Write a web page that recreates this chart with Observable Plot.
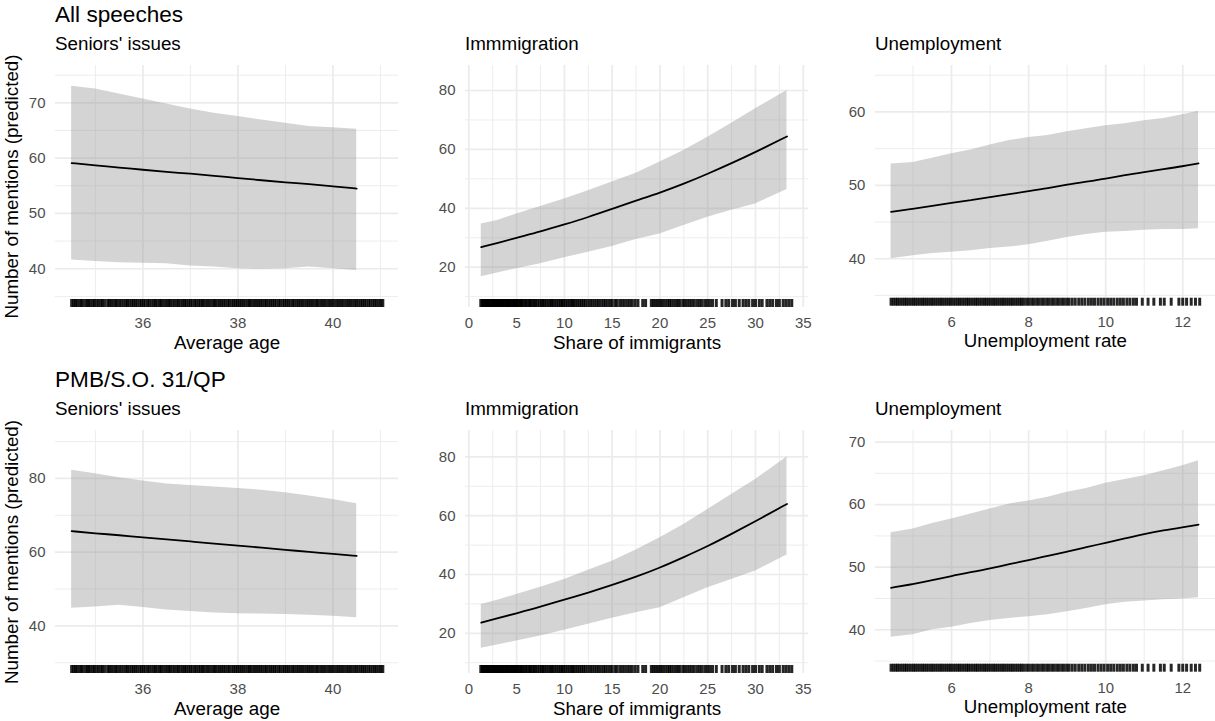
<!DOCTYPE html>
<html>
<head>
<meta charset="utf-8">
<script src="https://cdn.jsdelivr.net/npm/d3@7"></script>
<script src="https://cdn.jsdelivr.net/npm/@observablehq/plot@0.6"></script>
<style>
  html, body { margin: 0; padding: 0; background: #fff; overflow: hidden; }
  #fig { position: relative; width: 1215px; height: 721px; overflow: hidden;
         font-family: "Liberation Sans", Arial, Helvetica, sans-serif; }
  .ttl { position: absolute; white-space: nowrap; line-height: 1; color: #000; }
  .panel { position: absolute; }
  .panel svg { overflow: visible; }
  .panel g[aria-label="x-axis label"], .panel g[aria-label="y-axis label"] { font-size: 18.8px; fill: #000; }
  .panel g[aria-label="x-axis tick label"], .panel g[aria-label="y-axis tick label"] { fill: #4d4d4d; }
</style>
</head>
<body>
<div id="fig"></div>
<script>
// ---- labels ----
const rowTitles = ["All speeches", "PMB/S.O. 31/QP"];
const panelTitles = ["Seniors' issues", "Immmigration", "Unemployment"];
const xTitles = ["Average age", "Share of immigrants", "Unemployment rate"];
const yTitle = "Number of mentions (predicted)";

// ---- x tick labels ----
const ageTicks = [36, 38, 40];
const immTicks = [0, 5, 10, 15, 20, 25, 30, 35];
const unempTicks = [6, 8, 10, 12];

// ---- y tick labels per panel ----
const allAgeYTicks = [40, 50, 60, 70];
const allImmYTicks = [20, 40, 60, 80];
const allUnempYTicks = [40, 50, 60];
const pmbAgeYTicks = [40, 60, 80];
const pmbImmYTicks = [20, 40, 60, 80];
const pmbUnempYTicks = [40, 50, 60, 70];

// ---- predictor values where predictions are shown ----
const ageGrid = [34.5, 35, 35.5, 36, 36.5, 37, 37.5, 38, 38.5, 39, 39.5, 40, 40.5];
const immGrid = [1.3, 3, 5, 7.5, 10, 12.5, 15, 17.5, 20, 22.5, 25, 27.5, 30, 33.3];
const unempGrid = [4.43, 5, 5.5, 6, 6.5, 7, 7.5, 8, 8.5, 9, 9.5, 10, 10.5, 11, 11.5, 12, 12.41];

// ---- All speeches: predicted mentions with confidence band ----
const allAgeFit = [59.1, 58.7, 58.3, 57.9, 57.5, 57.2, 56.8, 56.4, 56.0, 55.6, 55.3, 54.9, 54.5];
const allAgeLo  = [41.6, 41.3, 41.1, 41.0, 40.9, 40.5, 40.3, 40.0, 39.9, 40.0, 40.3, 40.0, 39.7];
const allAgeHi  = [73.0, 72.5, 71.6, 70.7, 69.8, 68.9, 68.1, 67.5, 66.9, 66.3, 65.7, 65.5, 65.2];

const allImmFit = [26.8, 28.2, 30.0, 32.1, 34.5, 37.0, 39.8, 42.6, 45.3, 48.3, 51.7, 55.3, 59.1, 64.4];
const allImmLo  = [16.8, 18.0, 19.5, 21.2, 23.2, 25.1, 27.0, 29.4, 31.3, 34.2, 37.0, 39.3, 41.5, 46.4];
const allImmHi  = [34.7, 35.9, 38.1, 40.6, 43.2, 46.0, 48.9, 51.9, 55.7, 59.6, 64.1, 68.9, 73.8, 80.0];

const allUnempFit = [46.4, 46.8, 47.2, 47.6, 48.0, 48.4, 48.8, 49.2, 49.6, 50.1, 50.5, 50.9, 51.4, 51.8, 52.2, 52.6, 53.0];
const allUnempLo  = [40.0, 40.4, 40.7, 40.9, 41.1, 41.4, 41.6, 41.9, 42.4, 42.9, 43.3, 43.6, 43.7, 43.9, 44.0, 44.0, 44.1];
const allUnempHi  = [52.9, 53.1, 53.7, 54.3, 54.8, 55.5, 56.1, 56.5, 56.8, 57.3, 57.7, 58.1, 58.4, 58.8, 59.1, 59.6, 60.1];

// ---- PMB/S.O. 31/QP: predicted mentions with confidence band ----
const pmbAgeFit = [65.7, 65.1, 64.6, 64.0, 63.5, 62.9, 62.3, 61.8, 61.2, 60.6, 60.1, 59.5, 59.0];
const pmbAgeLo  = [44.8, 45.1, 45.6, 45.0, 44.3, 43.9, 43.5, 43.3, 43.2, 43.1, 42.9, 42.6, 42.2];
const pmbAgeHi  = [82.2, 81.3, 80.2, 79.3, 78.5, 78.1, 77.7, 77.3, 76.8, 76.1, 75.2, 74.3, 73.1];

const pmbImmFit = [23.6, 25.1, 26.8, 29.0, 31.5, 33.8, 36.4, 39.2, 42.3, 45.9, 49.6, 53.8, 58.1, 64.0];
const pmbImmLo  = [14.9, 16.0, 17.4, 19.1, 21.0, 23.1, 25.1, 27.0, 28.7, 32.1, 35.5, 38.3, 41.2, 46.6];
const pmbImmHi  = [29.8, 31.2, 33.2, 35.7, 38.3, 41.4, 44.5, 48.3, 52.5, 57.0, 62.1, 67.2, 72.3, 80.0];

const pmbUnempFit = [46.7, 47.3, 47.9, 48.6, 49.2, 49.8, 50.5, 51.1, 51.8, 52.5, 53.2, 53.9, 54.6, 55.3, 55.9, 56.4, 56.8];
const pmbUnempLo  = [38.8, 39.2, 40.0, 40.4, 41.0, 41.5, 41.8, 42.1, 42.4, 42.9, 43.4, 44.0, 44.4, 44.6, 44.8, 44.9, 45.1];
const pmbUnempHi  = [55.5, 56.1, 57.0, 57.7, 58.5, 59.3, 60.1, 60.6, 61.2, 62.0, 62.6, 63.4, 64.0, 64.6, 65.4, 66.2, 67.0];

// ---- observed predictor values (rug) ----
const ageRug = [34.50, 34.54, 34.58, 34.61, 34.66, 34.70, 34.73, 34.79, 34.83, 34.86, 34.90, 34.95, 34.98, 35.03, 35.07,
  35.12, 35.15, 35.20, 35.26, 35.29, 35.33, 35.37, 35.42, 35.45, 35.50, 35.54, 35.59, 35.64, 35.67, 35.71, 35.76, 35.80,
  35.84, 35.88, 35.93, 35.97, 36.01, 36.05, 36.10, 36.13, 36.18, 36.23, 36.26, 36.30, 36.35, 36.38, 36.42, 36.47, 36.51,
  36.55, 36.58, 36.63, 36.67, 36.72, 36.75, 36.80, 36.84, 36.88, 36.91, 36.96, 37.00, 37.04, 37.09, 37.12, 37.17, 37.21,
  37.25, 37.28, 37.33, 37.37, 37.41, 37.46, 37.50, 37.53, 37.58, 37.62, 37.66, 37.70, 37.74, 37.79, 37.82, 37.87, 37.91,
  37.95, 37.99, 38.03, 38.07, 38.11, 38.15, 38.20, 38.24, 38.27, 38.32, 38.36, 38.40, 38.44, 38.48, 38.52, 38.57, 38.60,
  38.65, 38.69, 38.73, 38.77, 38.81, 38.86, 38.89, 38.94, 38.98, 39.02, 39.06, 39.10, 39.15, 39.18, 39.23, 39.27, 39.31,
  39.35, 39.39, 39.44, 39.48, 39.52, 39.56, 39.60, 39.65, 39.68, 39.73, 39.77, 39.81, 39.85, 39.90, 39.94, 39.98, 40.02,
  40.07, 40.11, 40.15, 40.19, 40.23, 40.28, 40.32, 40.36, 40.40, 40.45, 40.49, 40.53, 40.58, 40.62, 40.66, 40.70, 40.75,
  40.79, 40.84, 40.88, 40.92, 40.97, 41.01, 41.05];

const immRug = [1.25, 1.4, 1.5, 1.6, 1.75, 1.85, 1.9, 2.0, 2.1, 2.2, 2.3, 2.45, 2.55, 2.6, 2.7, 2.8, 2.9, 3.0, 3.1, 3.15,
  3.3, 3.4, 3.5, 3.6, 3.7, 3.85, 3.95, 4.0, 4.1, 4.2, 4.3, 4.4, 4.55, 4.65, 4.7, 4.8, 4.9, 5.0, 5.1, 5.25, 5.4, 5.5,
  5.6, 5.8, 5.95, 6.1, 6.3, 6.4, 6.5, 6.7, 6.85, 7.0, 7.2, 7.4, 7.6, 7.75, 7.9, 8.1, 8.3, 8.5, 8.65, 8.8, 9.0, 9.2, 9.4,
  9.6, 9.75, 9.9, 10.1, 10.3, 10.5, 10.7, 10.85, 11.0, 11.2, 11.4, 11.6, 11.8, 12.0,
  12.2, 12.45, 12.7, 12.9, 13.15, 13.4, 13.6, 13.85, 14.1, 14.3, 14.55, 14.8, 15.0, 15.3, 15.5, 15.8, 16.05, 16.3,
  16.6, 16.85, 17.1, 17.4, 17.7, 18.2, 18.5,
  19.1, 19.3, 19.5, 19.7, 19.9, 20.1, 20.3, 20.55, 20.8, 21.0, 21.2, 21.45, 21.7, 21.9, 22.1, 22.4, 22.6, 22.85, 23.1,
  23.35, 23.6, 23.9, 24.15, 24.4, 24.7, 24.95, 25.2, 25.5,
  25.9, 26.5, 26.9, 27.2, 27.6, 27.9, 28.3, 28.7, 29.0, 29.3, 29.7, 30.0, 30.4, 30.7, 31.2, 31.5, 31.8, 32.2, 32.5,
  32.9, 33.2, 33.5, 33.8];

const unempRug = [4.43, 4.49, 4.55, 4.60, 4.66, 4.72, 4.78, 4.83, 4.89, 4.95, 5.01, 5.06, 5.12, 5.18, 5.24, 5.29, 5.35,
  5.41, 5.47, 5.52, 5.58, 5.64, 5.70, 5.75, 5.81, 5.87, 5.93, 5.98, 6.04, 6.10, 6.16, 6.21, 6.27, 6.33, 6.39, 6.44,
  6.50, 6.56, 6.62, 6.67, 6.73, 6.79, 6.85, 6.90, 6.96, 7.02, 7.08, 7.13, 7.19, 7.25, 7.31, 7.36, 7.42, 7.48, 7.54,
  7.59, 7.65, 7.71, 7.77, 7.82, 7.88, 7.95, 8.01, 8.08, 8.14, 8.21, 8.27, 8.34, 8.40, 8.47, 8.53, 8.60, 8.66, 8.73,
  8.79, 8.86, 8.92, 8.99, 9.05,
  9.13, 9.21, 9.30, 9.38, 9.46, 9.55, 9.63, 9.71, 9.80, 9.88, 9.96, 10.05, 10.13, 10.21, 10.30, 10.38, 10.46, 10.55,
  10.63, 10.72, 10.80,
  10.95, 11.10, 11.25, 11.42, 11.52, 11.70, 11.90, 12.00, 12.10, 12.22, 12.33, 12.44];

// ---- figure layout ----
const fig = document.getElementById("fig");
const FONT = '"Liberation Sans", Arial, Helvetica, sans-serif';

const rows = [
  { title: rowTitles[0], titleTop: 4.2, subTop: 34.8, plotTop: 65, plotH: 242, marginBottom: 52 },
  { title: rowTitles[1], titleTop: 369.2, subTop: 400.1, plotTop: 429.5, plotH: 243, marginBottom: 48 }
];
const cols = [
  { plotLeft: 55, plotW: 343, marginLeft: 55, x: xTitles[0] },
  { plotLeft: 465, plotW: 343, marginLeft: 45, x: xTitles[1] },
  { plotLeft: 875, plotW: 342, marginLeft: 45, x: xTitles[2] }
];

const panels = [
  [
    { grid: ageGrid, fit: allAgeFit, lo: allAgeLo, hi: allAgeHi, rug: ageRug, xTicks: ageTicks, yTicks: allAgeYTicks,
      xDomain: [34.16, 41.38], yDomain: [33.0, 76.74] },
    { grid: immGrid, fit: allImmFit, lo: allImmLo, hi: allImmHi, rug: immRug, xTicks: immTicks, yTicks: allImmYTicks,
      xDomain: [-0.35, 35.55], yDomain: [6.32, 88.49] },
    { grid: unempGrid, fit: allUnempFit, lo: allUnempLo, hi: allUnempHi, rug: unempRug, xTicks: unempTicks, yTicks: allUnempYTicks,
      xDomain: [4.02, 12.85], yDomain: [33.54, 66.33] }
  ],
  [
    { grid: ageGrid, fit: pmbAgeFit, lo: pmbAgeLo, hi: pmbAgeHi, rug: ageRug, xTicks: ageTicks, yTicks: pmbAgeYTicks,
      xDomain: [34.16, 41.38], yDomain: [27.08, 93.0] },
    { grid: immGrid, fit: pmbImmFit, lo: pmbImmLo, hi: pmbImmHi, rug: immRug, xTicks: immTicks, yTicks: pmbImmYTicks,
      xDomain: [-0.35, 35.55], yDomain: [6.32, 88.98] },
    { grid: unempGrid, fit: pmbUnempFit, lo: pmbUnempLo, hi: pmbUnempHi, rug: unempRug, xTicks: unempTicks, yTicks: pmbUnempYTicks,
      xDomain: [4.02, 12.85], yDomain: [33.22, 71.86] }
  ]
];

// minor breaks halfway between major breaks, kept inside the domain
function minorBreaks(ticks, domain) {
  const step = ticks[1] - ticks[0];
  const out = [];
  for (let v = ticks[0] - step / 2; v <= ticks[ticks.length - 1] + step; v += step) {
    if (v >= domain[0] && v <= domain[1]) out.push(v);
  }
  return out;
}

function addText(text, left, top, size) {
  const d = document.createElement("div");
  d.className = "ttl";
  d.textContent = text;
  d.style.left = left + "px";
  d.style.top = top + "px";
  d.style.fontSize = size + "px";
  fig.appendChild(d);
}

const marginTop = 10;
const gridColor = "#ebebeb";

rows.forEach((row, r) => {
  addText(row.title, cols[0].plotLeft, row.titleTop, 22.6);
  cols.forEach((col, c) => {
    const p = panels[r][c];
    addText(panelTitles[c], col.plotLeft, row.subTop, 18.8);

    const data = p.grid.map((x, i) => ({ x, fit: p.fit[i], lo: p.lo[i], hi: p.hi[i] }));
    const marginRight = c === 2 ? 0 : 5;
    const width = col.marginLeft + col.plotW + marginRight;
    const height = marginTop + row.plotH + row.marginBottom;

    const chart = Plot.plot({
      width, height,
      marginTop, marginBottom: row.marginBottom, marginLeft: col.marginLeft, marginRight,
      style: { fontFamily: FONT, fontSize: "15px", color: "#4d4d4d", background: "transparent", overflow: "visible" },
      x: { domain: p.xDomain },
      y: { domain: p.yDomain },
      marks: [
        Plot.gridX(minorBreaks(p.xTicks, p.xDomain), { stroke: gridColor, strokeOpacity: 1, strokeWidth: 0.9 }),
        Plot.gridY(minorBreaks(p.yTicks, p.yDomain), { stroke: gridColor, strokeOpacity: 1, strokeWidth: 0.9 }),
        Plot.gridX(p.xTicks, { stroke: gridColor, strokeOpacity: 1, strokeWidth: 1.7 }),
        Plot.gridY(p.yTicks, { stroke: gridColor, strokeOpacity: 1, strokeWidth: 1.7 }),
        Plot.areaY(data, { x: "x", y1: "lo", y2: "hi", fill: "#999999", fillOpacity: 0.42 }),
        Plot.lineY(data, { x: "x", y: "fit", stroke: "#000", strokeWidth: 1.8, curve: "basis" }),
        Plot.ruleX(p.rug, { x: d => d, stroke: "#000", strokeOpacity: 0.85, strokeWidth: 3, insetTop: row.plotH - 8 }),
        Plot.axisX(p.xTicks, { tickSize: 0, tickPadding: 10, label: col.x, labelAnchor: "center", labelArrow: "none", labelOffset: 41 }),
        Plot.axisY(p.yTicks, { tickSize: 0, tickPadding: 10, label: c === 0 ? yTitle : null, labelAnchor: "center", labelArrow: "none", labelOffset: 51 })
      ]
    });

    const holder = document.createElement("div");
    holder.className = "panel";
    holder.style.left = (col.plotLeft - col.marginLeft) + "px";
    holder.style.top = (row.plotTop - marginTop) + "px";
    holder.appendChild(chart);
    fig.appendChild(holder);
  });
});
</script>
</body>
</html>
